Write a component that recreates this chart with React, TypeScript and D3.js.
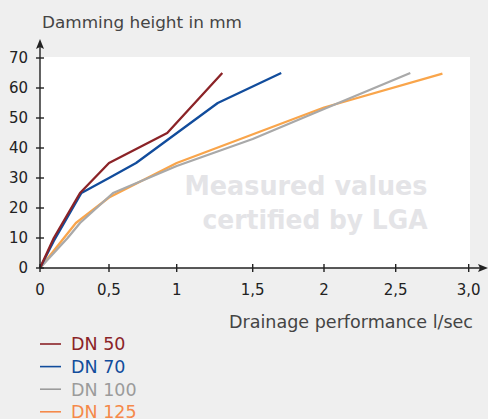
import * as d3 from 'd3'

type Pt = [number, number]

const seriesNames = ['DN 50', 'DN 70', 'DN 100', 'DN 125']
const dn50: Pt[] = [[0, 0], [0.1, 10], [0.29, 25], [0.5, 35], [0.93, 45], [1.3, 65]]
const dn70: Pt[] = [[0, 0], [0.1, 9], [0.3, 25], [0.5, 30], [0.7, 35], [1.27, 55], [1.7, 65]]
const dn100: Pt[] = [[0, 0], [0.2, 10], [0.29, 15], [0.53, 25], [1, 34], [1.5, 43], [2, 53], [2.6, 65]]
const dn125: Pt[] = [[0, 0], [0.26, 15], [0.5, 23.5], [1, 35], [2, 53.5], [2.82, 64.8]]

const xTicks = [0, 0.5, 1, 1.5, 2, 2.5, 3]
const xTickLabels = ['0', '0,5', '1', '1,5', '2', '2,5', '3,0']
const yTicks = [0, 10, 20, 30, 40, 50, 60, 70]

const lineColors = ['#8b2327', '#114c9c', '#a9a9a9', '#f9a54b']
const labelColors = ['#8b2327', '#114c9c', '#9b9b9b', '#f5894a']

const W = 488
const H = 419
// the original axis has slightly uneven tick spacing
const xTickPx = [40, 109, 176.7, 252.7, 324, 395.7, 468.7]
const font = '"DejaVu Sans", sans-serif'

export default function App() {
  const x = d3.scaleLinear().domain(xTicks).range(xTickPx)
  const y = d3.scaleLinear().domain([0, 70]).range([268, 58])
  const line = d3
    .line<Pt>()
    .x((d) => x(d[0]))
    .y((d) => y(d[1]))

  const series = [dn50, dn70, dn100, dn125]
  const x0 = x(0)
  const y0 = y(0)

  return (
    <svg width={W} height={H} style={{ position: 'absolute', left: 0, top: 0 }} fontFamily={font}>
      <rect width={W} height={H} fill="#efefef" />
      <rect x={x0} y={57} width={470 - x0} height={y0 - 57} fill="#ffffff" />

      <g fill="#e4e4e7" fontWeight="bold" fontSize={26} textAnchor="middle">
        <text x={306} y={195} textLength={243} lengthAdjust="spacingAndGlyphs">Measured values</text>
        <text x={315} y={229} textLength={225} lengthAdjust="spacingAndGlyphs">certified by LGA</text>
      </g>

      {series
        .slice()
        .reverse()
        .map((s, i) => {
          const k = series.length - 1 - i
          return <path key={k} d={line(s) ?? ''} fill="none" stroke={lineColors[k]} strokeWidth={2.3} strokeLinejoin="round" />
        })}

      {/* axes */}
      <g stroke="#222" strokeWidth={1.4}>
        <line x1={x0} x2={x0} y1={y0} y2={46} />
        <line x1={x0} x2={482} y1={y0} y2={y0} />
        {yTicks.map((t) => (
          <line key={t} x1={x0 - 4} x2={x0 + 4} y1={y(t)} y2={y(t)} />
        ))}
        {xTicks.map((t) => (
          <line key={t} x1={x(t)} x2={x(t)} y1={y0 - 4} y2={y0 + 4} />
        ))}
      </g>
      <path d={`M${x0},39 L${x0 + 4},49 L${x0},47 L${x0 - 4},49 Z`} fill="#222" />
      <path d={`M488,${y0} L478,${y0 + 4} L480,${y0} L478,${y0 - 4} Z`} fill="#222" />

      <g fill="#222" fontSize={15}>
        {yTicks.map((t) => (
          <text key={t} x={28} y={y(t)} dy="0.36em" textAnchor="end">
            {t}
          </text>
        ))}
        {xTicks.map((t, i) => (
          <text key={t} x={x(t)} y={295} textAnchor="middle">
            {xTickLabels[i]}
          </text>
        ))}
      </g>

      <text x={42} y={28} fontSize={16.5} fill="#444" textLength={200} lengthAdjust="spacingAndGlyphs">
        Damming height in mm
      </text>
      <text x={229} y={328} fontSize={17} fill="#444" textLength={244} lengthAdjust="spacingAndGlyphs">
        Drainage performance l/sec
      </text>

      {seriesNames.map((name, i) => {
        const cy = 344 + i * 22.6
        return (
          <g key={name}>
            <line x1={40} x2={61} y1={cy} y2={cy} stroke={labelColors[i]} strokeWidth={1.6} />
            <text x={71} y={cy} dy="0.36em" fontSize={17.5} fill={labelColors[i]}>
              {name}
            </text>
          </g>
        )
      })}
    </svg>
  )
}
